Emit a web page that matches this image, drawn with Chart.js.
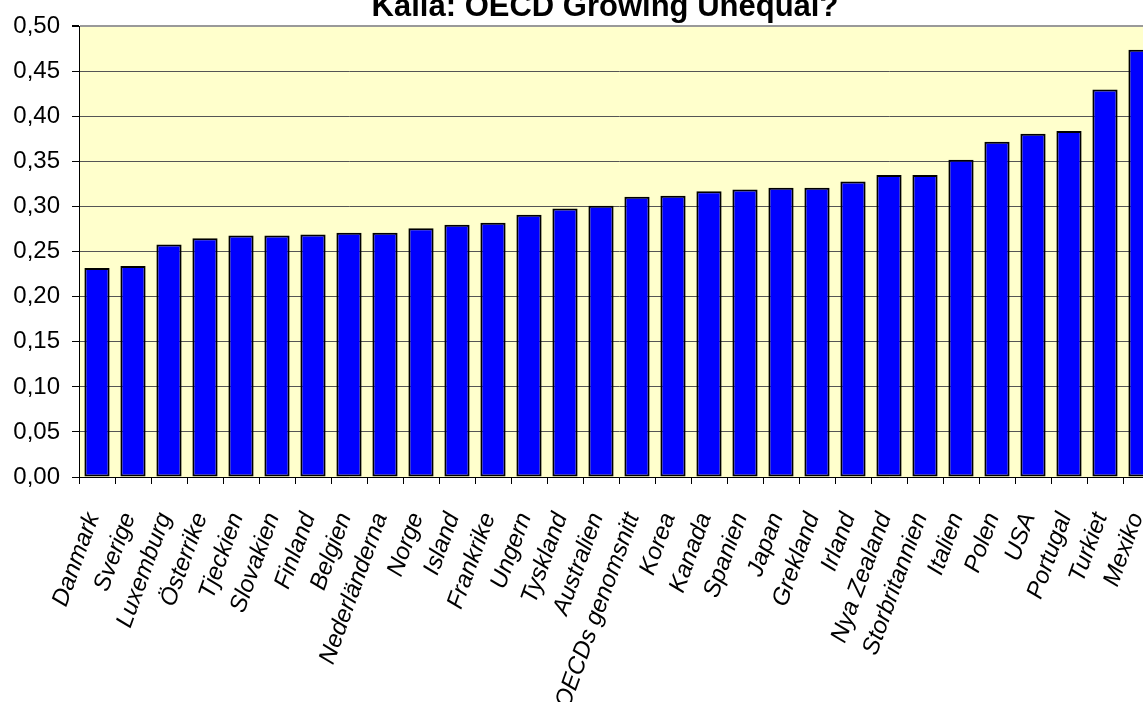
<!DOCTYPE html>
<html>
<head>
<meta charset="utf-8">
<script src="https://cdn.jsdelivr.net/npm/chart.js@4"></script>
<style>
  html, body { margin: 0; padding: 0; background: #fff; overflow: hidden; }
  canvas { display: block; }
</style>
</head>
<body>
<canvas id="myChart" width="1160" height="702"></canvas>
<script>
const countries = ['Danmark', 'Sverige', 'Luxemburg', 'Österrike', 'Tjeckien', 'Slovakien', 'Finland', 'Belgien',
  'Nederländerna', 'Norge', 'Island', 'Frankrike', 'Ungern', 'Tyskland', 'Australien', 'OECDs genomsnitt',
  'Korea', 'Kanada', 'Spanien', 'Japan', 'Grekland', 'Irland', 'Nya Zealand', 'Storbritannien',
  'Italien', 'Polen', 'USA', 'Portugal', 'Turkiet', 'Mexiko'];
const gini = [0.232, 0.234, 0.258, 0.265, 0.268, 0.268, 0.269, 0.271,
  0.271, 0.276, 0.280, 0.282, 0.291, 0.298, 0.301, 0.311,
  0.312, 0.317, 0.319, 0.321, 0.321, 0.328, 0.335, 0.335,
  0.352, 0.372, 0.381, 0.384, 0.430, 0.474];
const yMin = 0, yMax = 0.5, yStep = 0.05;
const titleText = 'Källa: OECD Growing Unequal?';

const font = 'Liberation Sans, Arial, sans-serif';

// pale yellow plot area + title partly off the top edge
const plotBg = {
  id: 'plotBg',
  beforeDraw(chart) {
    const {ctx, chartArea: a} = chart;
    ctx.save();
    ctx.fillStyle = '#FFFFCC';
    ctx.fillRect(a.left, a.top, a.right - a.left, a.bottom - a.top);
    ctx.restore();
  },
  afterDraw(chart) {
    const ctx = chart.ctx;
    ctx.save();
    ctx.font = 'bold 31px ' + font;
    ctx.fillStyle = '#000';
    ctx.textAlign = 'center';
    ctx.textBaseline = 'alphabetic';
    ctx.fillText(titleText, 605, 16);
    ctx.restore();
  }
};

const ctx = document.getElementById('myChart').getContext('2d');
const myChart = new Chart(ctx, {
  type: 'bar',
  data: {
    labels: countries,
    datasets: [{
      data: gini,
      backgroundColor: '#0000FF',
      borderColor: '#000000',
      borderWidth: 2,
      borderSkipped: false,
      barPercentage: 0.7,
      categoryPercentage: 1.0
    }]
  },
  options: {
    responsive: false,
    animation: false,
    layout: { padding: { top: 25, right: 1, left: 0, bottom: 0 } },
    plugins: {
      legend: { display: false },
      title: { display: false },
      tooltip: { enabled: false }
    },
    scales: {
      x: {
        offset: true,
        grid: { offset: true, drawOnChartArea: false, drawTicks: true, tickLength: 7, tickColor: '#000', color: '#000' },
        border: { color: '#000', width: 1 },
        ticks: {
          autoSkip: false, minRotation: 70, maxRotation: 70,
          color: '#000', padding: 25, labelOffset: -4,
          font: { family: font, size: 24, style: 'italic' }
        },
        afterFit: (s) => {
          s.height = 702 - 477;
          s.paddingLeft = 0;
          s.paddingRight = 0;
        }
      },
      y: {
        min: yMin, max: yMax,
        ticks: {
          stepSize: yStep, color: '#000', padding: 12,
          font: { family: font, size: 24 },
          callback: (v) => v.toFixed(2).replace('.', ',')
        },
        grid: {
          color: (c) => c.index === 10 ? '#999999' : '#555555',
          lineWidth: (c) => c.index === 10 ? 2 : 1,
          tickColor: '#000', tickLength: 7
        },
        border: { color: '#000', width: 1 },
        afterFit: (s) => { s.width = 79; }
      }
    }
  },
  plugins: [plotBg]
});
</script>
</body>
</html>
